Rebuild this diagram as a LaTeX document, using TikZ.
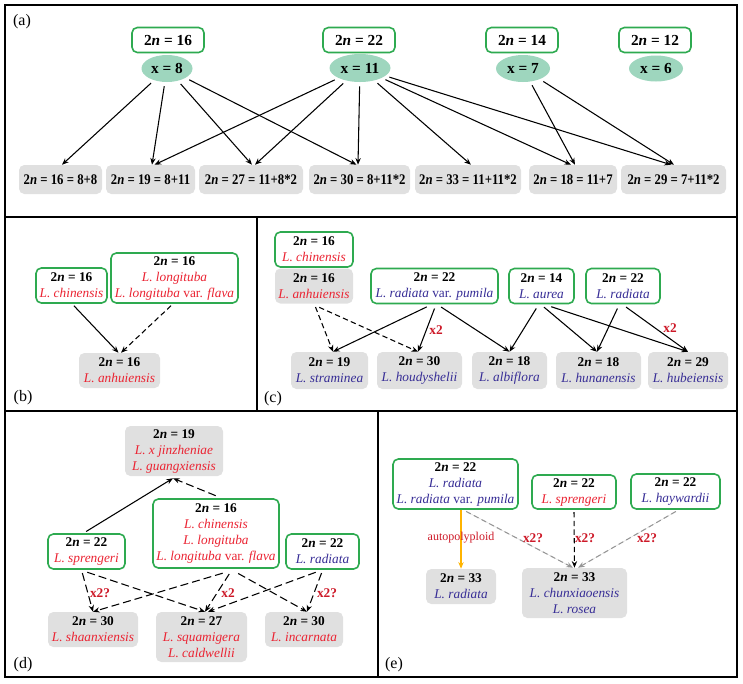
\documentclass[tikz,border=0pt]{standalone}
\usepackage{fontspec}
\setmainfont{Liberation Serif}
\newfontfamily\condfont{Liberation Serif}[FakeStretch=0.87]
\usetikzlibrary{arrows.meta,calc,shapes.geometric}
\definecolor{gbord}{RGB}{46,170,80}
\definecolor{efill}{RGB}{158,214,190}
\definecolor{gfill}{RGB}{224,224,224}
\definecolor{rsp}{RGB}{235,35,50}
\definecolor{bsp}{RGB}{55,45,150}
\definecolor{xlab}{RGB}{205,25,40}
\definecolor{orng}{RGB}{255,180,0}
\definecolor{gdash}{RGB}{150,150,150}
\newcommand\tn[1]{\textbf{2\textit{n} = #1}}
\newcommand\rs[1]{\textcolor{rsp}{#1}}
\newcommand\bs[1]{\textcolor{bsp}{#1}}
\begin{document}
\begin{tikzpicture}[x=0.75pt,y=-0.75pt,
 wh/.style 2 args={minimum width=#1*0.75pt, minimum height=#2*0.75pt},
 gbox/.style={draw=gbord, line width=1.2pt, rounded corners=4pt, fill=white, align=center, inner sep=1pt, font=\fontsize{10}{12}\selectfont},
 graybox/.style={fill=gfill, rounded corners=4pt, align=center, inner sep=1pt, font=\fontsize{10}{12}\selectfont},
 tbox/.style={gbox, font=\fontsize{11.5}{13}\selectfont, wh={72}{25}},
 abox/.style={graybox, font=\condfont\fontsize{11}{13}\selectfont\bfseries},
 ell/.style={ellipse, fill=efill, inner sep=0pt, font=\fontsize{11.5}{13}\selectfont\bfseries},
 arr/.style={-{Stealth[length=5pt,width=4pt]}, line width=0.8pt, shorten <=1pt},
 darr/.style={arr, dash pattern=on 4pt off 2.5pt},
 ldarr/.style={arr, dash pattern=on 6pt off 3pt},
 xl/.style={text=xlab, font=\fontsize{10}{12}\selectfont\bfseries, inner sep=0pt},
 plab/.style={font=\fontsize{12}{14}\selectfont, inner sep=0pt},
 frame/.style={line width=1.5pt}
]
\useasboundingbox (0,0) rectangle (743,683);
% frames
\draw[frame] (5,5) rectangle (737,677);
\draw[frame] (5,217) -- (737,217);
\draw[frame] (5,411) -- (737,411);
\draw[frame] (257,217) -- (257,411);
\draw[frame] (378,411) -- (378,677);
% panel labels
\node[plab] (la) at (22,22) {(a)};
\node[plab] (lb) at (23,398) {(b)};
\node[plab] (lc) at (273,399) {(c)};
\node[plab] (ld) at (23,665) {(d)};
\node[plab] (le) at (394,665) {(e)};

% ---------- panel (a)
\node[tbox] (t16) at (168,40) {\tn{16}};
\node[tbox] (t22) at (359,40) {\tn{22}};
\node[tbox] (t14) at (522,40) {\tn{14}};
\node[tbox] (t12) at (655,40) {\tn{12}};
\node[ell, wh={51}{27}] (e8) at (167,68.5) {x = 8};
\node[ell, wh={61}{28}] (e11) at (360,68) {x = 11};
\node[ell, wh={54}{27}] (e7) at (523,68.5) {x = 7};
\node[ell, wh={54}{26}] (e6) at (656,68.5) {x = 6};
\node[abox, wh={83}{29}] (a1) at (60.5,179.5) {2\textit{n} = 16 = 8+8};
\node[abox, wh={89}{29}] (a2) at (150.5,179.5) {2\textit{n} = 19 = 8+11};
\node[abox, wh={104}{29}] (a3) at (251,179.5) {2\textit{n} = 27 = 11+8*2};
\node[abox, wh={101}{29}] (a4) at (359.5,179.5) {2\textit{n} = 30 = 8+11*2};
\node[abox, wh={106}{29}] (a5) at (468,179.5) {2\textit{n} = 33 = 11+11*2};
\node[abox, wh={88}{29}] (a6) at (573,179.5) {2\textit{n} = 18 = 11+7};
\node[abox, wh={105}{29}] (a7) at (673.5,179.5) {2\textit{n} = 29 = 7+11*2};
\draw[arr, shorten <=3pt] (e8) -- ($(a1.north)+(1.5,0)$);
\draw[arr, shorten <=3pt] (e8) -- ($(a2.north)+(1.5,0)$);
\draw[arr, shorten <=3pt] (e8) -- ($(a3.north)+(1,0)$);
\draw[arr, shorten <=3pt] (e8) -- ($(a4.north)+(-3,0)$);
\draw[arr, shorten <=3pt] (e11) -- ($(a2.north)+(4,0)$);
\draw[arr, shorten <=3pt] (e11) -- ($(a3.north)+(4,0)$);
\draw[arr, shorten <=3pt] (e11) -- ($(a4.north)+(-1.5,0)$);
\draw[arr, shorten <=3pt] (e11) -- ($(a5.north)+(3,0)$);
\draw[arr, shorten <=3pt] (e11) -- ($(a6.north)+(-2,0)$);
\draw[arr, shorten <=3pt] (e11) -- ($(a7.north)+(-2.5,0)$);
\draw[arr, shorten <=3pt] (e7) -- ($(a6.north)+(2,0)$);
\draw[arr, shorten <=3pt] (e7) -- ($(a7.north)+(0.5,0)$);

% ---------- panel (b)
\node[gbox, wh={71}{35}] (b1) at (71.5,285.5) {\tn{16}\\\rs{\textit{L. chinensis}}};
\node[gbox, wh={127}{50}] (b2) at (174.5,278) {\tn{16}\\\rs{\textit{L. longituba}}\\\rs{\textit{L. longituba} var. \textit{flava}}};
\node[graybox, wh={81}{35}] (b3) at (119.5,370.5) {\tn{16}\\\rs{\textit{L. anhuiensis}}};
\draw[arr] ($(b1.south)+(1.5,1)$) -- ($(b3.north)+(-1,0)$);
\draw[darr] ($(b2.south)+(-2.5,1)$) -- ($(b3.north)+(1.5,0)$);

% ---------- panel (c)
\node[gbox, wh={78}{35}] (c1) at (314,249.5) {\tn{16}\\\rs{\textit{L. chinensis}}};
\node[graybox, wh={78}{35}] (c2) at (314,286) {\tn{16}\\\rs{\textit{L. anhuiensis}}};
\node[gbox, wh={127}{35}] (c3) at (434.5,286) {\tn{22}\\\bs{\textit{L. radiata} var. \textit{pumila}}};
\node[gbox, wh={65}{35}] (c4) at (541.5,286) {\tn{14}\\\bs{\textit{L. aurea}}};
\node[gbox, wh={74}{35}] (c5) at (623,286) {\tn{22}\\\bs{\textit{L. radiata}}};
\node[graybox, wh={77}{37}] (c6) at (329.5,370.5) {\tn{19}\\\bs{\textit{L. straminea}}};
\node[graybox, wh={85}{37}] (c7) at (419.5,370.5) {\tn{30}\\\bs{\textit{L. houdyshelii}}};
\node[graybox, wh={75}{37}] (c8) at (509.5,370.5) {\tn{18}\\\bs{\textit{L. albiflora}}};
\node[graybox, wh={85}{37}] (c9) at (598.5,370.5) {\tn{18}\\\bs{\textit{L. hunanensis}}};
\node[graybox, wh={80}{37}] (c10) at (688,370.5) {\tn{29}\\\bs{\textit{L. hubeiensis}}};
\draw[darr] ($(c2.south)+(1,2)$) -- ($(c6.north)+(3.5,0)$);
\draw[darr] ($(c2.south)+(4,3)$) -- ($(c7.north)+(-1.5,0)$);
\draw[arr] ($(c3.south)+(-6.5,2)$) -- ($(c6.north)+(3.5,0)$);
\draw[arr] ($(c3.south)+(0.5,3)$) -- ($(c7.north)+(-1.5,0)$);
\draw[arr] ($(c3.south)+(5.5,2)$) -- (c8.north);
\draw[arr] ($(c4.south)+(-4.5,3)$) -- (c8.north);
\draw[arr] ($(c4.south)+(1.5,2)$) -- ($(c9.north)+(-1.5,0)$);
\draw[arr] ($(c4.south)+(8.5,2)$) -- (c10.north);
\draw[arr] ($(c5.south)+(-5,3)$) -- ($(c9.north)+(-1.5,0)$);
\draw[arr] ($(c5.south)+(2,2)$) -- (c10.north);
\node[xl] (cx1) at (436,330) {x2};
\node[xl] (cx2) at (670,328) {x2};

% ---------- panel (d)
\node[graybox, wh={98}{50}] (d1) at (174,451) {\tn{19}\\\rs{\textit{L. x jinzheniae}}\\\rs{\textit{L. guangxiensis}}};
\node[gbox, wh={126}{69}] (d2) at (216,533.5) {\tn{16}\\\rs{\textit{L. chinensis}}\\\rs{\textit{L. longituba}}\\\rs{\textit{L. longituba} var. \textit{flava}}};
\node[gbox, wh={77}{35}] (d3) at (86.5,551.5) {\tn{22}\\\rs{\textit{L. sprengeri}}};
\node[gbox, wh={73}{35}] (d4) at (322.5,551.5) {\tn{22}\\\bs{\textit{L. radiata}}};
\node[graybox, wh={90}{35}] (d5) at (93,629.5) {\tn{30}\\\rs{\textit{L. shaanxiensis}}};
\node[graybox, wh={91}{50}] (d6) at (201.5,637) {\tn{27}\\\rs{\textit{L. squamigera}}\\\rs{\textit{L. caldwellii}}};
\node[graybox, wh={78}{35}] (d7) at (304,629.5) {\tn{30}\\\rs{\textit{L. incarnata}}};
\draw[arr] ($(d3.north)+(-1.5,-1)$) -- ($(d1.south)+(-1,2)$);
\draw[ldarr] ($(d2.north)+(1,-2)$) -- ($(d1.south)+(-1,2)$);
\draw[ldarr] ($(d3.south)+(-4.5,2)$) -- (d5.north);
\draw[ldarr] ($(d3.south)+(-0.5,2)$) -- ($(d6.north)+(3.5,0)$);
\draw[ldarr] ($(d2.south)+(8,4)$) -- (d5.north);
\draw[ldarr] ($(d2.south)+(14,4)$) -- ($(d6.north)+(3.5,0)$);
\draw[ldarr] ($(d2.south)+(21,4)$) -- ($(d7.north)+(3,0)$);
\draw[ldarr] ($(d4.south)+(-5.5,2)$) -- ($(d6.north)+(6.5,0)$);
\draw[ldarr] ($(d4.south)+(-0.5,2)$) -- ($(d7.north)+(3,0)$);
\node[xl] (dx1) at (100,593) {x2?};
\node[xl] (dx2) at (228,593) {x2};
\node[xl] (dx3) at (327,593) {x2?};

% ---------- panel (e)
\node[gbox, wh={125}{50}] (e1) at (455.5,484) {\tn{22}\\\bs{\textit{L. radiata}}\\\bs{\textit{L. radiata} var. \textit{pumila}}};
\node[gbox, wh={84}{34}] (e2) at (574,492) {\tn{22}\\\rs{\textit{L. sprengeri}}};
\node[gbox, wh={89}{35}] (e3) at (675.5,491.5) {\tn{22}\\\bs{\textit{L. haywardii}}};
\node[graybox, wh={70}{35}] (e4) at (461,586.5) {\tn{33}\\\bs{\textit{L. radiata}}};
\node[graybox, wh={105}{50}] (e5) at (574.5,593) {\tn{33}\\\bs{\textit{L. chunxiaoensis}}\\\bs{\textit{L. rosea}}};
\draw[arr, draw=orng, fill=orng, shorten <=0pt] ($(e1.south)+(5.5,0)$) -- (e4.north);
\draw[darr, draw=gdash, fill=gdash] ($(e1.south)+(9.5,1)$) -- ($(e5.north)+(-1.5,0)$);
\draw[darr] ($(e2.south)+(0,1)$) -- (e5.north);
\draw[darr, draw=gdash, fill=gdash] ($(e3.south)+(1.5,1)$) -- ($(e5.north)+(3.5,0)$);
\node[text=xlab, font=\fontsize{9}{11}\selectfont, inner sep=0pt] (auto) at (461,538) {autopolyploid};
\node[xl] (ex1) at (533,538) {x2?};
\node[xl] (ex2) at (585,538) {x2?};
\node[xl] (ex3) at (647,538) {x2?};
\end{tikzpicture}
\end{document}
